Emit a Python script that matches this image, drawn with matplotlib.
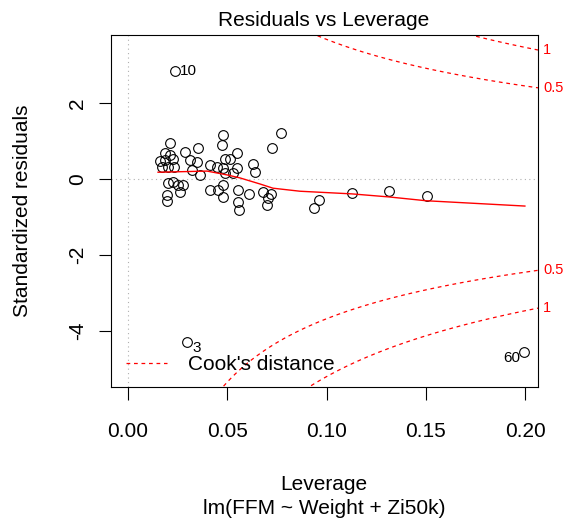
import numpy as np
import matplotlib
matplotlib.use('Agg')
from matplotlib import pyplot as plt

plt.rcParams['font.family'] = ['Liberation Sans', 'DejaVu Sans']
plt.rcParams['axes.unicode_minus'] = False

# leverage / standardized residuals
leverage = [0.0211, 0.0186, 0.0211, 0.0161, 0.0186, 0.0228, 0.0170, 0.0203, 0.0232,
            0.0287, 0.0312, 0.0354, 0.0346, 0.0321, 0.0363, 0.0413, 0.0203, 0.0228,
            0.0253, 0.0278, 0.0262, 0.0195, 0.0194, 0.0413, 0.0480, 0.0475, 0.0770,
            0.0727, 0.0547, 0.0488, 0.0514, 0.0447, 0.0480, 0.0547, 0.0628, 0.0639,
            0.0488, 0.0530, 0.0480, 0.0455, 0.0480, 0.0555, 0.0609, 0.0555, 0.0560,
            0.0681, 0.0720, 0.0706, 0.0698, 0.0962, 0.0938, 0.1129, 0.1314, 0.1504,
            0.1994, 0.0297, 0.0237]
std_resid = [0.96, 0.68, 0.63, 0.47, 0.50, 0.54, 0.32, 0.32, 0.32,
             0.72, 0.50, 0.82, 0.46, 0.24, 0.12, 0.37, -0.11, -0.09,
             -0.16, -0.16, -0.33, -0.42, -0.58, -0.29, 1.16, 0.89, 1.22,
             0.81, 0.68, 0.54, 0.54, 0.32, 0.28, 0.30, 0.39, 0.19,
             0.15, 0.15, -0.16, -0.29, -0.47, -0.29, -0.40, -0.60, -0.82,
             -0.33, -0.40, -0.49, -0.68, -0.55, -0.76, -0.36, -0.32, -0.45,
             -4.55, -4.29, 2.84]

# labelled observations: (index into arrays, label)
labelled = [(56, '10'), (55, '3'), (54, '60')]

# smoother (red line)
smooth_x = [0.0151, 0.0398, 0.0448, 0.0498, 0.0564, 0.0665, 0.0730, 0.0866,
            0.1128, 0.1314, 0.1501, 0.1999]
smooth_y = [0.18, 0.21, 0.16, 0.11, 0.03, -0.13, -0.24, -0.32,
            -0.39, -0.47, -0.57, -0.71]

cook_levels = [0.5, 1]
n_coef = 3

xlim = (-0.0086, 0.2065)
ylim = (-5.47, 3.79)

W, H = 570, 521
fig = plt.figure(figsize=(W / 100, H / 100), dpi=100)
ax = fig.add_axes([111 / W, 1 - 387 / H, (538 - 111) / W, (387 - 35) / H])

ax.axhline(0, color='#b0b0b0', lw=0.8, ls=(0, (1, 3)), zorder=0)
ax.axvline(0, color='#b0b0b0', lw=0.8, ls=(0, (1, 3)), zorder=0)

ax.plot(leverage, std_resid, 'o', mfc='none', mec='black', ms=7, mew=0.8)
ax.plot(smooth_x, smooth_y, color='red', lw=1)

hh = np.linspace(0.001, xlim[1], 101)
for lev in cook_levels:
    cl = np.sqrt(lev * n_coef * (1 - hh) / hh)
    ax.plot(hh, cl, color='red', lw=0.9, ls=(0, (3, 3)))
    ax.plot(hh, -cl, color='red', lw=0.9, ls=(0, (3, 3)))

# right-hand labels for contour levels
aty = np.sqrt(np.array(cook_levels) * n_coef * (1 - xlim[1]) / xlim[1])
for lev, a in zip(cook_levels, aty):
    for s in (1, -1):
        ax.text(1.012, s * a, str(lev), color='red', fontsize=10.5,
                transform=ax.get_yaxis_transform(), ha='left', va='center')

for i, lab in labelled:
    if lab == '60':
        ax.annotate(lab, (leverage[i], std_resid[i]), xytext=(-4, -6),
                    textcoords='offset pixels', ha='right', va='center', fontsize=11)
    elif lab == '3':
        ax.annotate(lab, (leverage[i], std_resid[i]), xytext=(5, -6),
                    textcoords='offset pixels', ha='left', va='center', fontsize=11)
    else:
        ax.annotate(lab, (leverage[i], std_resid[i]), xytext=(5, 0),
                    textcoords='offset pixels', ha='left', va='center', fontsize=11)

ax.plot([], [], color='red', lw=0.9, ls=(0, (3, 3)), label="Cook's distance")
ax.legend(loc='lower left', frameon=False, fontsize=15, handlelength=2.0,
          handletextpad=1.0, borderaxespad=0.3, bbox_to_anchor=(0.0, -0.005))

ax.set_xlim(xlim)
ax.set_ylim(ylim)
ax.set_xticks([0.0, 0.05, 0.10, 0.15, 0.20])
ax.set_xticklabels(['0.00', '0.05', '0.10', '0.15', '0.20'])
ax.set_yticks([-4, -2, 0, 2])
ax.tick_params(axis='both', labelsize=15, length=9, width=0.8)
ax.tick_params(axis='x', pad=16)
ax.tick_params(axis='y', pad=8)
for t in ax.get_yticklabels():
    t.set_rotation(90)
    t.set_va('center')

fig.text(324 / W, 1 - 21 / H, 'Residuals vs Leverage', ha='center', va='center', fontsize=15)
fig.text(23 / W, 1 - 211 / H, 'Standardized residuals', ha='center', va='center',
         rotation=90, fontsize=15)
fig.text(324 / W, 1 - 484 / H, 'Leverage', ha='center', va='center', fontsize=15)
fig.text(324 / W, 1 - 508 / H, 'lm(FFM ~ Weight + Zi50k)', ha='center', va='center', fontsize=15)

fig.savefig('out.png', dpi=100)
